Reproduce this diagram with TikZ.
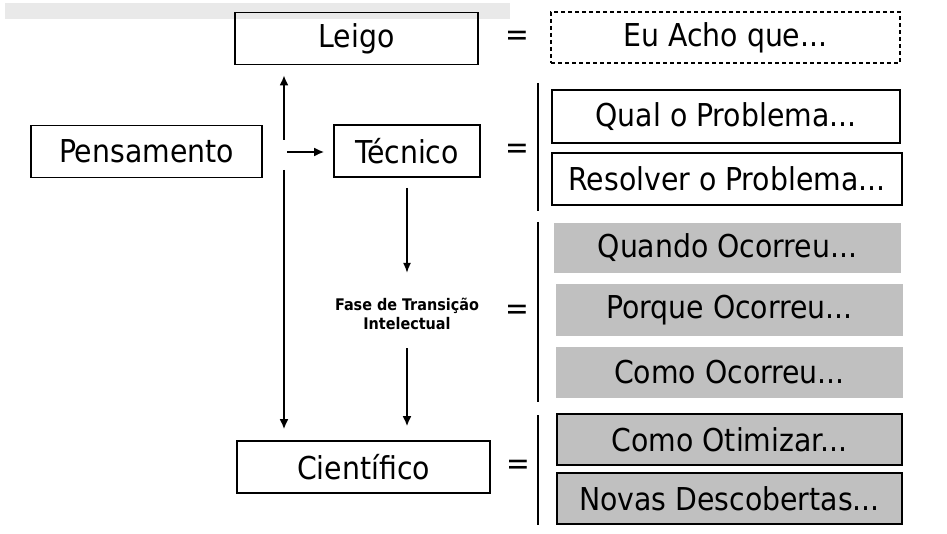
\documentclass[tikz,border=0pt]{standalone}
\usepackage{fontspec}
\setmainfont{DejaVu Sans Condensed}
\usetikzlibrary{arrows.meta}
\definecolor{topbar}{HTML}{E9E9E9}
\definecolor{boxgray}{HTML}{C0C0C0}
\tikzset{
  box/.style={draw, line width=1.6pt, minimum height=52pt, inner sep=0pt, font=\fontsize{31.5}{36}\selectfont},
  dbox/.style={box, line width=1.3pt, dash pattern=on 4pt off 3pt},
  gbox/.style={fill=boxgray, minimum height=51pt, inner sep=0pt, font=\fontsize{31.5}{36}\selectfont},
  kbox/.style={box, fill=boxgray, line width=2.5pt},
  eq/.style={font=\fontsize{31.5}{36}\selectfont, inner sep=0pt},
  arr/.style={line width=1.9pt, -{Latex[length=10pt,width=9pt]}},
  arrthin/.style={line width=1.3pt, -{Latex[length=10pt,width=8pt]}},
  bar/.style={line width=1.8pt}
}
\begin{document}
\begin{tikzpicture}[x=1pt,y=-1pt]
\useasboundingbox (0,0) rectangle (947,534);
\fill[topbar] (5,3) rectangle (510,19);
% left nodes
\node[box, minimum width=243pt] (leigo) at (356.5,38.5) {Leigo};
\node[box, minimum width=231pt] (pens) at (146.5,151.5) {Pensamento};
\node[box, minimum width=146pt] (tec) at (407,151) {Técnico};
\node[box, minimum width=253pt] (cien) at (363.5,467) {Científico};
\node[font=\fontsize{16}{19}\selectfont\bfseries, align=center, inner sep=0pt, minimum height=50pt] (fase) at (407,314) {Fase de Transição\\Intelectual};
% equals
\node[eq] (eq1) at (517,38) {=};
\node[eq] (eq2) at (517,151) {=};
\node[eq] (eq3) at (517,312) {=};
\node[eq] (eq4) at (518,467) {=};
% right boxes
\node[dbox, minimum width=349pt, minimum height=51pt] (acho) at (725.5,37.5) {Eu Acho que...};
\node[box, minimum width=348pt, minimum height=53pt] (qual) at (726,116.5) {Qual o Problema...};
\node[box, minimum width=350pt] (resol) at (727,179) {Resolver o Problema...};
\node[gbox, minimum width=347pt, minimum height=50pt] (quando) at (727.5,248) {Quando Ocorreu...};
\node[gbox, minimum width=347pt, minimum height=52pt] (porque) at (729.5,310) {Porque Ocorreu...};
\node[gbox, minimum width=347pt] (como) at (729.5,372.5) {Como Ocorreu...};
\node[kbox, minimum width=345pt, minimum height=51pt] (otim) at (729.5,439.5) {Como Otimizar...};
\node[kbox, minimum width=345pt, minimum height=51pt] (novas) at (729.5,498.5) {Novas Descobertas...};
% bars
\coordinate (b1t) at (538,83); \coordinate (b1b) at (538,211);
\coordinate (b2t) at (538,222); \coordinate (b2b) at (538,402);
\coordinate (b3t) at (538,415); \coordinate (b3b) at (538,525);
\draw[bar] (b1t) -- (b1b);
\draw[bar] (b2t) -- (b2b);
\draw[bar] (b3t) -- (b3b);
% connectors
\coordinate (up0) at (284,140);
\coordinate (h0) at (287,152);
\coordinate (d0) at (284,170);
\draw[arr, shorten >=10pt] (up0) -- (up0 |- leigo.south);
\draw[arr, shorten >=9pt] (h0) -- (h0 -| tec.west);
\draw[arr, shorten >=11pt] (d0) -- (d0 |- cien.north);
\draw[arrthin, shorten <=10pt, shorten >=16pt] (tec.south) -- (fase.north);
\draw[arr, shorten <=9pt, shorten >=14pt] (fase.south) -- (fase.south |- cien.north);
\end{tikzpicture}
\end{document}
